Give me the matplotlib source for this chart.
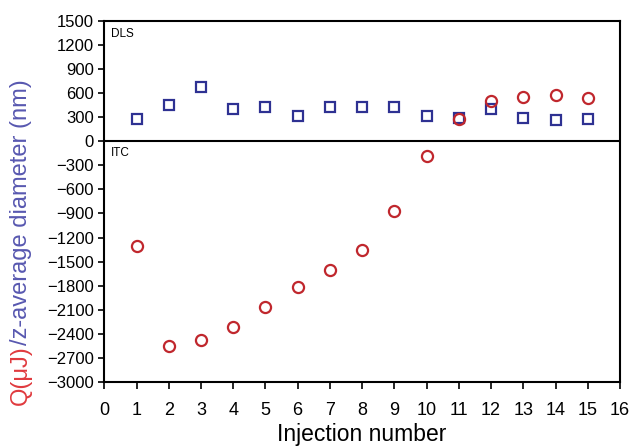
import numpy as np
import matplotlib
matplotlib.use('Agg')
import matplotlib.pyplot as plt

injection = np.arange(1, 16)
dls_diameter = [270, 452, 672, 398, 427, 311, 423, 427, 427, 307, 283, 402, 286, 265, 270]
itc_heat = [-1307, -2552, -2478, -2316, -2067, -1814, -1610, -1361, -876, -183,
            278, 498, 552, 569, 539]

red = '#c0272d'
blue = '#2e3192'

plt.rcParams['font.family'] = ['Liberation Sans', 'DejaVu Sans']

fig = plt.figure(figsize=(6.32, 4.46), dpi=100)
ax = fig.add_axes([0.165, 0.143, 0.816, 0.811])

ax.plot(injection, dls_diameter, 's', ms=7, mfc='none', mec=blue, mew=1.6, zorder=3)
ax.plot(injection, itc_heat, 'o', ms=8, mfc='none', mec=red, mew=1.6, zorder=3)
ax.axhline(0, color='black', lw=1.5)

ax.set_xlim(0, 16)
ax.set_ylim(-3000, 1500)
ax.set_xticks(range(0, 17))
ax.set_yticks(range(-3000, 1501, 300))
ax.tick_params(axis='y', labelsize=12, width=1.2, length=4, direction='out')
ax.tick_params(axis='x', labelsize=13, width=1.2, length=5, direction='out', pad=9)
for s in ax.spines.values():
    s.set_linewidth(1.5)

ax.text(0.2, 1330, 'DLS', fontsize=8.5, va='center')
ax.text(0.2, -150, 'ITC', fontsize=8.5, va='center')
ax.set_xlabel('Injection number', fontsize=16.5, labelpad=3)

# two-coloured y label
t1 = fig.text(21 / 632, 1 - 405 / 446, 'Q(\u03bcJ)', color='#e03a3e', fontsize=17,
              rotation=90, ha='center', va='bottom')
fig.canvas.draw()
bb = t1.get_window_extent()
top = bb.y1 / fig.bbox.height
fig.text(21 / 632, top, '/z-average diameter (nm)', color='#5858b0', fontsize=17,
         rotation=90, ha='center', va='bottom')

fig.savefig('out.png', dpi=100)
